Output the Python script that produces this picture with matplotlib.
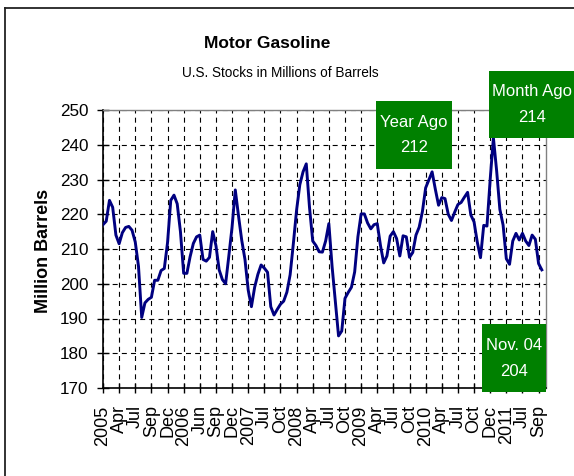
import matplotlib
matplotlib.use("Agg")
import matplotlib.pyplot as plt
from matplotlib import font_manager
from matplotlib.patches import Rectangle
from matplotlib.lines import Line2D

# ---------------- data ----------------
stocks = [217, 218, 224, 222, 214, 211.5, 214.7, 216.2, 216.5, 215.4,
          212, 205, 190.3, 194.5, 195.5, 196.1, 201, 201, 203.8, 204.4,
          211.8, 224, 225.5, 223, 215, 203, 203, 207.8, 211.6, 213.5,
          214, 207, 206.5, 207.6, 215, 211, 204, 201.2, 200, 208,
          216.3, 227, 219.5, 212.5, 207, 198.2, 193.4, 199, 202.7, 205.4,
          204.5, 203.3, 193.4, 191, 192.6, 194.1, 195, 197.6, 202.6, 211.6,
          221.2, 228.5, 232.2, 234.5, 222, 212.3, 211, 209.2, 209.1, 212.3,
          217.3, 205, 195, 185, 186.4, 195.8, 197.5, 199, 203.4, 213.5,
          220.1, 220.1, 217.5, 215.8, 217, 217.3, 211, 206, 208, 213.7,
          215, 213, 208, 213.8, 213.5, 207.6, 209, 214, 216.3, 220.8,
          227.6, 229.9, 232.2, 227.2, 222.6, 224.8, 224.5, 220, 218.2, 220.6,
          222.8, 223.4, 224.9, 226.3, 219.8, 217.8, 212, 207.5, 216.8, 216.6,
          230, 242, 232.5, 221.4, 216.9, 207.2, 205.6, 212.3, 214.5, 212.6,
          214.5, 212.3, 211, 214, 212.8, 205.8, 204]
tick_labels = ['2005', 'Apr', 'Jul', 'Sep', 'Dec', '2006', 'Jun', 'Sep', 'Dec',
               '2007', 'Jul', 'Oct', '2008', 'Apr', 'Jul', 'Oct', '2009', 'Apr',
               'Jul', 'Oct', '2010', 'Apr', 'Jul', 'Oct', 'Dec', '2011', 'Jul', 'Sep']
points_per_tick = 5
y_ticks = [170, 180, 190, 200, 210, 220, 230, 240, 250]
year_ago = 212
month_ago = 214
latest = 204
latest_label = 'Nov. 04'

# ---------------- fonts ----------------
names = {f.name for f in font_manager.fontManager.ttflist}
narrow = 'Liberation Sans Narrow' in names
plt.rcParams['font.family'] = ['Liberation Sans', 'DejaVu Sans']
plt.rcParams['lines.scale_dashes'] = False
if narrow:
    head_family = ['Liberation Sans Narrow', 'Liberation Sans']
    title_size, sub_size, box_size = 14.5, 12, 13
else:
    head_family = ['Liberation Sans', 'DejaVu Sans']
    title_size, sub_size, box_size = 12.5, 9.8, 12

W, H = 574, 476
fig = plt.figure(figsize=(W / 100, H / 100), dpi=100)
fig.patch.set_facecolor('white')

def fx(px):
    return px / W

def fy(py):
    return 1 - py / H

ax = fig.add_axes([fx(103), fy(388), fx(546) - fx(103), fy(110) - fy(388)])

x = list(range(len(stocks)))
ax.plot(x, stocks, color='#000080', lw=2.1, solid_joinstyle='round', zorder=3)

ax.set_xlim(0, 137.3)
ax.set_ylim(170, 250)
ax.set_yticks(y_ticks)
ax.set_yticklabels([str(v) for v in y_ticks], fontsize=12.3)
ticks = [i * points_per_tick for i in range(len(tick_labels))]
ax.set_xticks(ticks)
ax.set_xticklabels(tick_labels, rotation=90, fontsize=13)
ax.tick_params(axis='x', direction='inout', length=7, width=1, pad=9)
ax.tick_params(axis='y', direction='inout', length=9, width=1, pad=6)

ax.grid(True, which='major', color='black', lw=0.8, linestyle=(0, (3.6, 3.0)))
ax.set_axisbelow(True)

for s in ['left', 'bottom']:
    ax.spines[s].set_color('black')
    ax.spines[s].set_linewidth(1.2)
for s in ['top', 'right']:
    ax.spines[s].set_color('#808080')
    ax.spines[s].set_linewidth(1.0)

# titles
fig.text(fx(267), fy(43), 'Motor Gasoline', ha='center', va='center',
         fontsize=title_size, fontweight='bold', family=head_family)
fig.text(fx(280), fy(73), 'U.S. Stocks in Millions of Barrels', ha='center',
         va='center', fontsize=sub_size, family=head_family)
fig.text(fx(43), fy(251), 'Million Barrels', rotation=90, ha='center',
         va='center', fontsize=13, fontweight='bold')

# outer frame
fig.add_artist(Line2D([fx(4.5), fx(4.5)], [0, fy(7.5)], color='#222222', lw=1.3))
fig.add_artist(Line2D([fx(4.5), 1], [fy(7.5), fy(7.5)], color='#222222', lw=1.3))

# annotation boxes
def box(x0, y0, x1, y1, line1, line2):
    fig.add_artist(Rectangle((fx(x0), fy(y1)), fx(x1) - fx(x0), fy(y0) - fy(y1),
                             transform=fig.transFigure, facecolor='#008000',
                             edgecolor='none', zorder=5))
    cx = (x0 + x1) / 2
    cy = (y0 + y1) / 2
    fig.text(fx(cx), fy(cy - 13), line1, color='white', ha='center', va='center',
             fontsize=box_size, zorder=6, family=head_family)
    fig.text(fx(cx), fy(cy + 13), line2, color='white', ha='center', va='center',
             fontsize=box_size, zorder=6, family=head_family)

box(376, 101, 452, 169, 'Year Ago', str(year_ago))
box(489, 71, 576, 138, 'Month Ago', str(month_ago))
box(482, 324, 546, 392, latest_label, str(latest))

fig.savefig('out.png', dpi=100, facecolor='white')
